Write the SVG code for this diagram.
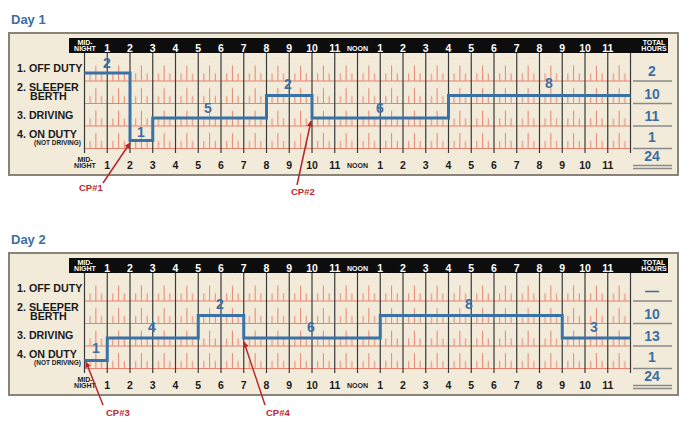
<svg xmlns="http://www.w3.org/2000/svg" width="696" height="429" viewBox="0 0 696 429">
<defs>
<style>
text{font-family:"Liberation Sans",Arial,sans-serif;font-weight:bold}
.title{font-size:13px;fill:#3d6ea3}
.panel{fill:#f3ebda;stroke:#8a8378;stroke-width:2}
.bar{fill:#0d0d0d}
.hw{fill:#fff;font-size:10.5px;text-anchor:middle}
.hb{fill:#1a1a1a;font-size:10.5px;text-anchor:middle}
.sm{font-size:7px;text-anchor:middle}
.smw{fill:#fff}
.smb{fill:#1a1a1a}
.lab{fill:#1a1a1a;font-size:10.7px}
.lab2{fill:#1a1a1a;font-size:6.5px;text-anchor:end}
.hour{stroke:#3a3a3a;stroke-width:1.2}
.row{stroke:#e8826c;stroke-width:1.2}
.tot{stroke:#8a8a8a;stroke-width:1.5}
.val{fill:#3d6ea3;font-size:14px;text-anchor:middle}
.step{fill:none;stroke:#3a72a6;stroke-width:3;stroke-linejoin:miter}
.cp{fill:#c0282e;font-size:9.5px}
.arrow{stroke:#b5282d;stroke-width:1.5;fill:none;marker-end:url(#ah)}
</style>
<marker id="ah" viewBox="0 0 10 10" refX="9" refY="5" markerWidth="6" markerHeight="6" orient="auto" markerUnits="userSpaceOnUse">
<path d="M0,0L10,5L0,10Z" fill="#b5282d"/>
</marker>
<pattern id="ticks" x="84.5" y="58.5" width="22.75" height="22.5" patternUnits="userSpaceOnUse">
<path d="M5.69,22.5V15 M11.375,22.5V7 M17.06,22.5V15" stroke="#e8826c" stroke-width="1"/>
</pattern>
<g id="grid">
<rect class="panel" x="9" y="33" width="669" height="142"/>
<rect class="bar" x="69" y="38" width="599" height="15"/>
<rect x="84.5" y="58.5" width="546" height="90" fill="url(#ticks)"/>
<path class="row" d="M84.5,81H630.5M84.5,103.5H630.5M84.5,126H630.5M84.5,148.5H630.5"/>
<path class="hour" d="M84.5,53V153M107.25,53V153M130,53V153M152.75,53V153M175.5,53V153M198.25,53V153M221,53V153M243.75,53V153M266.5,53V153M289.25,53V153M312,53V153M334.75,53V153M357.5,53V153M380.25,53V153M403,53V153M425.75,53V153M448.5,53V153M471.25,53V153M494,53V153M516.75,53V153M539.5,53V153M562.25,53V153M585,53V153M607.75,53V153M630.5,53V153"/>
<path class="tot" d="M633,81H672M633,103.5H672M633,126H672M633,148.5H672M633,165.5H672M633,168.5H672"/>
<text class="sm smw" x="85" y="44.5">MID-</text>
<text class="sm smw" x="85" y="51">NIGHT</text>
<text class="sm smw" x="654" y="44.5">TOTAL</text>
<text class="sm smw" x="654" y="51">HOURS</text>
<g class="hw">
<text x="107.25" y="51.5">1</text><text x="130" y="51.5">2</text><text x="152.75" y="51.5">3</text><text x="175.5" y="51.5">4</text><text x="198.25" y="51.5">5</text><text x="221" y="51.5">6</text><text x="243.75" y="51.5">7</text><text x="266.5" y="51.5">8</text><text x="289.25" y="51.5">9</text><text x="312" y="51.5">10</text><text x="334.75" y="51.5">11</text>
<text x="380.25" y="51.5">1</text><text x="403" y="51.5">2</text><text x="425.75" y="51.5">3</text><text x="448.5" y="51.5">4</text><text x="471.25" y="51.5">5</text><text x="494" y="51.5">6</text><text x="516.75" y="51.5">7</text><text x="539.5" y="51.5">8</text><text x="562.25" y="51.5">9</text><text x="585" y="51.5">10</text><text x="607.75" y="51.5">11</text>
</g>
<text class="sm smw" x="357.5" y="50.5">NOON</text>
<text class="sm smb" x="85" y="161.5">MID-</text>
<text class="sm smb" x="85" y="168">NIGHT</text>
<g class="hb">
<text x="107.25" y="168.5">1</text><text x="130" y="168.5">2</text><text x="152.75" y="168.5">3</text><text x="175.5" y="168.5">4</text><text x="198.25" y="168.5">5</text><text x="221" y="168.5">6</text><text x="243.75" y="168.5">7</text><text x="266.5" y="168.5">8</text><text x="289.25" y="168.5">9</text><text x="312" y="168.5">10</text><text x="334.75" y="168.5">11</text>
<text x="380.25" y="168.5">1</text><text x="403" y="168.5">2</text><text x="425.75" y="168.5">3</text><text x="448.5" y="168.5">4</text><text x="471.25" y="168.5">5</text><text x="494" y="168.5">6</text><text x="516.75" y="168.5">7</text><text x="539.5" y="168.5">8</text><text x="562.25" y="168.5">9</text><text x="585" y="168.5">10</text><text x="607.75" y="168.5">11</text>
</g>
<text class="sm smb" x="357.5" y="167.5">NOON</text>
<text class="lab" x="17" y="71.5">1. OFF DUTY</text>
<text class="lab" x="17" y="91">2. SLEEPER</text>
<text class="lab" x="30" y="99.5">BERTH</text>
<text class="lab" x="17" y="118.5">3. DRIVING</text>
<text class="lab" x="17" y="137.5">4. ON DUTY</text>
<text class="lab2" x="81" y="144.5">(NOT DRIVING)</text>
</g>
</defs>

<g id="day1">
<text id="day1-title" class="title" x="11" y="23.5">Day 1</text>
<use id="day1-log" href="#grid"/>
<path id="day1-status" class="step" d="M84.5,73H130V140.5H152.75V118H266.5V95.5H312V118H448.5V95.5H630.5"/>
<g id="day1-segments" class="val">
<text x="107" y="68">2</text>
<text x="141" y="137">1</text>
<text x="208" y="113">5</text>
<text x="288" y="89">2</text>
<text x="380" y="113">6</text>
<text x="549" y="88">8</text>
</g>
<g id="day1-totals" class="val">
<text x="652" y="76">2</text>
<text x="652" y="98.5">10</text>
<text x="652" y="120.5">11</text>
<text x="652" y="142">1</text>
<text x="652" y="161">24</text>
</g>
</g>

<g id="day2" transform="translate(0,220)">
<text id="day2-title" class="title" x="11" y="23.5">Day 2</text>
<use id="day2-log" href="#grid"/>
<path id="day2-status" class="step" d="M84.5,140.5H107.25V118H198.25V95.5H243.75V118H380.25V95.5H562.25V118H630.5"/>
<g id="day2-segments" class="val">
<text x="96" y="133">1</text>
<text x="152" y="112">4</text>
<text x="220" y="89">2</text>
<text x="311" y="112">6</text>
<text x="469" y="89">8</text>
<text x="594" y="112">3</text>
</g>
<g id="day2-totals" class="val">
<text x="652" y="76">—</text>
<text x="652" y="98.5">10</text>
<text x="652" y="120.5">13</text>
<text x="652" y="142">1</text>
<text x="652" y="161">24</text>
</g>
</g>

<g id="cp1"><text class="cp" x="79" y="191">CP#1</text></g>
<g id="cp2"><text class="cp" x="291" y="195">CP#2</text></g>
<g id="cp3"><text class="cp" x="106" y="416">CP#3</text></g>
<g id="cp4"><text class="cp" x="266" y="416">CP#4</text></g>

<g id="connectors">
<line class="arrow" x1="103" y1="183" x2="130" y2="143"/>
<line class="arrow" x1="297" y1="185" x2="311" y2="121"/>
<line class="arrow" x1="103" y1="405" x2="86" y2="362"/>
<line class="arrow" x1="265" y1="405" x2="244" y2="342"/>
</g>
</svg>
